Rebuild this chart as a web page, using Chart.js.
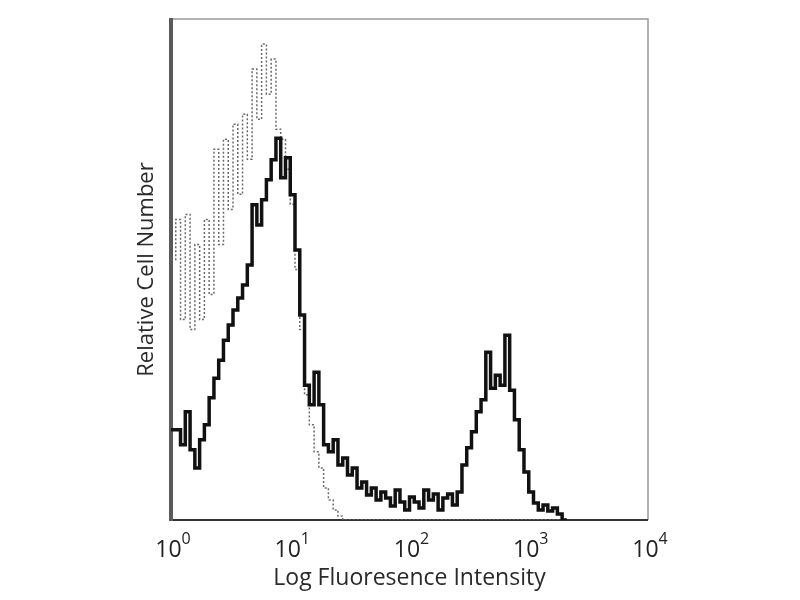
<!DOCTYPE html>
<html>
<head>
<meta charset="utf-8">
<script src="https://cdn.jsdelivr.net/npm/chart.js@4.4.1/dist/chart.umd.min.js"></script>
<style>
  body { margin: 0; background: #fff; }
  canvas { display: block; }
</style>
</head>
<body>
<canvas id="histo" width="800" height="600"></canvas>
<script>
// fluorescence channel (bin positions on the log axis)
const channels = [
  1.000, 1.096, 1.202, 1.318, 1.445, 1.585, 1.738, 1.905, 2.089, 2.291,
  2.512, 2.754, 3.020, 3.311, 3.631, 3.981, 4.365, 4.786, 5.248, 5.754,
  6.310, 6.918, 7.586, 8.318, 9.120, 10.00, 10.96, 12.02, 13.18, 14.45,
  15.85, 17.38, 19.05, 20.89, 22.91, 25.12, 27.54, 30.20, 33.11, 36.31,
  39.81, 43.65, 47.86, 52.48, 57.54, 63.10, 69.18, 75.86, 83.18, 91.20,
  100.0, 109.6, 120.2, 131.8, 144.5, 158.5, 173.8, 190.5, 208.9, 229.1,
  251.2, 275.4, 302.0, 331.1, 363.1, 398.1, 436.5, 478.6, 524.8, 575.4,
  631.0, 691.8, 758.6, 831.8, 912.0, 1000, 1096, 1202, 1318, 1445,
  1585, 1738, 1905, 2089
];

// stained sample (solid black)
const stained = [
  18.0, 18.0, 15.0, 21.6, 14.0, 10.4, 16.0, 19.0, 24.4, 28.3,
  31.9, 35.9, 38.9, 41.9, 44.3, 46.9, 50.9, 62.9, 58.9, 63.9,
  67.9, 71.9, 76.2, 68.3, 72.3, 64.9, 53.9, 40.9, 26.9, 23.0,
  29.5, 23.0, 15.0, 13.6, 16.0, 11.0, 12.4, 9.0, 10.4, 6.4,
  7.6, 5.0, 6.4, 4.0, 5.6, 4.4, 2.8, 6.0, 3.6, 2.0,
  4.6, 3.6, 2.4, 6.0, 4.0, 5.2, 2.0, 4.4, 5.2, 3.0,
  5.6, 11.0, 14.4, 17.6, 21.6, 24.0, 33.5, 26.3, 28.9, 26.9,
  36.9, 25.9, 20.0, 14.0, 9.6, 5.6, 3.4, 2.0, 3.0, 1.8,
  2.4, 1.2, 0, 0
];

// isotype control (dotted gray)
const isotype = [
  52, 60, 40, 61, 38, 55, 40, 60, 45, 74,
  55, 76, 62, 79, 65, 81, 72, 90, 80, 95,
  85, 92, 78, 76, 70, 63, 50, 38, 25, 19,
  13.6, 10.4, 6.4, 4.0, 2.0, 0.8, 0, 0, 0, 0,
  0, 0, 0, 0, 0, 0, 0, 0, 0, 0,
  0, 0, 0, 0, 0, 0, 0, 0, 0, 0,
  0, 0, 0, 0, 0, 0, 0, 0, 0, 0,
  0, 0, 0, 0, 0, 0, 0, 0, 0, 0,
  0, 0, 0, 0
];

const tickValues = [1, 10, 100, 1000, 10000];
const tickExponents = ['0', '1', '2', '3', '4'];

function toPoints(ys) {
  return ys.map((y, i) => ({ x: channels[i], y: y }));
}

// frame around the plot area, drawn under the data
const framePlugin = {
  id: 'frame',
  beforeDatasetsDraw(chart) {
    const { ctx, chartArea: a } = chart;
    ctx.save();
    ctx.strokeStyle = '#9a9a9a';
    ctx.lineWidth = 1.5;
    ctx.beginPath();
    ctx.moveTo(a.left, a.top);
    ctx.lineTo(a.right, a.top);
    ctx.lineTo(a.right, a.bottom);
    ctx.stroke();
    ctx.strokeStyle = '#333';
    ctx.lineWidth = 2;
    ctx.beginPath();
    ctx.moveTo(a.left, a.bottom);
    ctx.lineTo(a.right, a.bottom);
    ctx.stroke();
    ctx.strokeStyle = '#5a5a5a';
    ctx.lineWidth = 4;
    ctx.beginPath();
    ctx.moveTo(a.left, a.top - 1);
    ctx.lineTo(a.left, a.bottom + 1);
    ctx.stroke();
    ctx.restore();
  }
};

// power of ten labels with superscript exponent
const powerLabels = {
  id: 'powerLabels',
  afterDraw(chart) {
    const { ctx } = chart;
    const xs = chart.scales.x;
    ctx.save();
    ctx.fillStyle = '#222';
    ctx.textBaseline = 'alphabetic';
    tickValues.forEach((v, i) => {
      const px = xs.getPixelForValue(v);
      ctx.font = '23px "Open Sans"';
      const wBase = ctx.measureText('10').width;
      ctx.font = '16px "Open Sans"';
      const wExp = ctx.measureText(tickExponents[i]).width;
      const left = px - (wBase + wExp) / 2 + 2;
      ctx.font = '23px "Open Sans"';
      ctx.textAlign = 'left';
      ctx.fillText('10', left, 557);
      ctx.font = '16px "Open Sans"';
      ctx.fillText(tickExponents[i], left + wBase, 544);
    });
    ctx.restore();
  }
};

new Chart(document.getElementById('histo'), {
  type: 'line',
  data: {
    datasets: [
      {
        label: 'Stained',
        data: toPoints(stained),
        borderColor: '#111',
        borderWidth: 3.5,
        stepped: true,
        pointRadius: 0,
        fill: false,
        order: 0
      },
      {
        label: 'Isotype',
        data: toPoints(isotype),
        borderColor: '#6a6a6a',
        borderWidth: 1.5,
        borderDash: [2, 2],
        stepped: true,
        pointRadius: 0,
        fill: false,
        order: 1
      }
    ]
  },
  options: {
    responsive: false,
    animation: false,
    layout: { padding: { left: 130, right: 152, top: 19, bottom: 0 } },
    plugins: {
      legend: { display: false },
      tooltip: { enabled: false }
    },
    scales: {
      x: {
        type: 'logarithmic',
        min: 1,
        max: 10000,
        grid: { display: false, drawTicks: false },
        border: { display: false },
        ticks: { display: false },
        afterBuildTicks: (s) => { s.ticks = tickValues.map(v => ({ value: v })); },
        afterFit: (s) => { s.height = 80; },
        title: {
          display: true,
          text: 'Log Fluoresence Intensity',
          color: '#2a2a2a',
          font: { family: 'Open Sans', size: 23 },
          padding: { top: 0, bottom: 8 }
        }
      },
      y: {
        min: 0,
        max: 100,
        grid: { display: false, drawTicks: false },
        border: { display: false },
        ticks: { display: false },
        afterFit: (s) => { s.width = 41; },
        title: {
          display: true,
          text: 'Relative Cell Number',
          color: '#2a2a2a',
          font: { family: 'Open Sans', size: 22 },
          padding: { top: 4, bottom: 0 }
        }
      }
    }
  },
  plugins: [framePlugin, powerLabels]
});
</script>
</body>
</html>
